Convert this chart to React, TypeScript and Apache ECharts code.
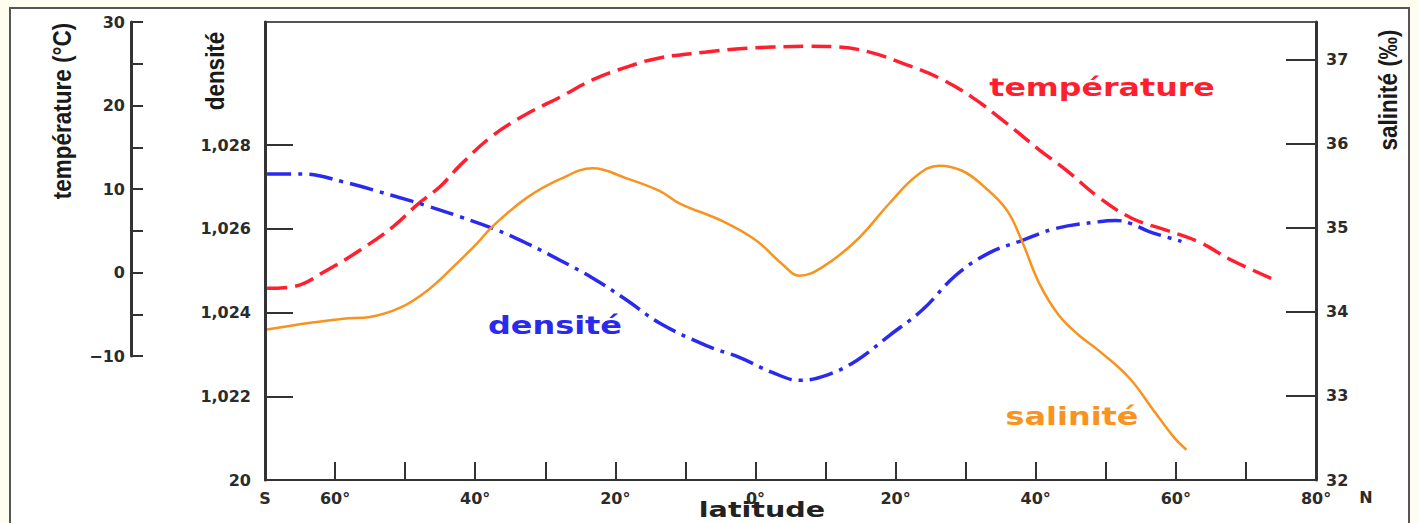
import React, { useEffect, useRef } from "react";
import * as echarts from "echarts";

// Latitude (negative = South, positive = North)
const tempLat = [-69.7, -66, -61.1, -56.4, -51.7, -48.3, -45, -42.2, -37.5, -32.6, -27.9, -23.2, -18.4, -13.7, -7, -2.3, 2.4, 7.3, 12, 16.7, 21.5, 26.2, 30.9, 35.8, 40.5, 44.3, 49, 53.7, 58.5, 63.2, 67.9, 73.6];
const tempVal = [-1.9, -1.7, 0.3, 2.7, 5.5, 8.1, 10.3, 12.8, 16.4, 19.0, 21.0, 23.1, 24.6, 25.7, 26.4, 26.8, 27.0, 27.1, 27.0, 26.3, 24.9, 23.3, 21.0, 17.9, 14.7, 12.3, 9.0, 6.5, 5.1, 3.7, 1.5, -0.7];

const densLat = [-69.7, -64.5, -58.8, -51.7, -46.9, -42.2, -37.5, -32.6, -27.9, -23.2, -18.4, -13.7, -7, -2.3, 2.4, 6.3, 10.1, 14.4, 19.1, 23.8, 28.6, 33.3, 38, 42.9, 49, 51.4, 53.7, 56.1, 60.8];
const densVal = [1.02731, 1.02731, 1.02712, 1.02679, 1.02655, 1.02629, 1.02601, 1.02565, 1.02525, 1.02482, 1.0243, 1.02375, 1.02321, 1.02293, 1.02257, 1.02238, 1.0225, 1.02285, 1.02345, 1.02406, 1.02489, 1.02542, 1.02572, 1.02601, 1.02617, 1.0262, 1.02612, 1.02594, 1.0257];

const salLat = [-69.7, -63.5, -58.8, -55, -50.7, -46.9, -43.2, -39.7, -37.5, -32.6, -27.9, -23.2, -18.4, -13.7, -10.8, -4.7, 0.1, 3.8, 6.3, 9.5, 14.4, 19.1, 23, 26.2, 29.5, 32.5, 35.8, 38, 40.5, 43.3, 46.2, 49, 53.3, 56.8, 59.7, 61.5];
const salVal = [33.79, 33.87, 33.92, 33.94, 34.05, 34.25, 34.53, 34.82, 35.02, 35.36, 35.58, 35.71, 35.59, 35.44, 35.29, 35.08, 34.85, 34.57, 34.43, 34.53, 34.85, 35.29, 35.62, 35.74, 35.68, 35.5, 35.22, 34.85, 34.34, 33.96, 33.72, 33.54, 33.22, 32.83, 32.51, 32.36];

const latTickLabels: Record<string, string> = {
  "-70": "S", "-60": "60°", "-40": "40°", "-20": "20°", "0": "0°",
  "20": "20°", "40": "40°", "60": "60°", "80": "80°",
};
const densTicks = [1.022, 1.024, 1.026, 1.028];
const densLabels = [1.02, 1.022, 1.024, 1.026, 1.028];

const zip = (xs: number[], ys: number[]) => xs.map((x, i) => [x, ys[i]]);

const tickFont = { fontFamily: "DejaVu Sans", fontWeight: "bold" as const, fontSize: 16, color: "#2b2b2b" };

export default function App() {
  const ref = useRef<HTMLDivElement>(null);
  useEffect(() => {
    if (!ref.current) return;
    const chart = echarts.init(ref.current, undefined, { renderer: "svg" });
    const option: any = {
      animation: false,
      grid: [
        { left: 265, top: 22, width: 1051, height: 458, show: true, borderColor: "#555", borderWidth: 2 },
        { left: 131, top: 22, width: 10, height: 334, show: false },
      ],
      xAxis: [
        {
          type: "value", gridIndex: 0, min: -70, max: 80, interval: 10,
          axisLine: { onZero: false, lineStyle: { color: "#333", width: 2 } },
          axisTick: { inside: true, length: 18, lineStyle: { color: "#333", width: 2 } },
          axisLabel: { ...tickFont, margin: 10, formatter: (v: number) => latTickLabels[String(Math.round(v))] ?? "" },
          splitLine: { show: false },
        },
        { type: "value", gridIndex: 1, show: false, min: 0, max: 1 },
      ],
      yAxis: [
        {
          type: "value", gridIndex: 0, position: "left", min: 1.02, max: 1.03094,
          axisLine: { show: true, onZero: false, lineStyle: { color: "#333", width: 3 } },
          axisTick: { show: true, inside: true, length: 28, customValues: densTicks, lineStyle: { color: "#333", width: 2 } },
          axisLabel: {
            ...tickFont, margin: 14, customValues: densLabels,
            formatter: (v: number) => {
              const k = Math.round((v - 1) * 1000);
              return k === 20 ? "20" : k > 28 ? "" : "1,0" + k;
            },
          },
          splitLine: { show: false },
        },
        {
          type: "value", gridIndex: 0, position: "right", min: 32, max: 37.45, interval: 1,
          axisLine: { show: true, onZero: false, lineStyle: { color: "#333", width: 3 } },
          axisTick: { show: true, inside: true, length: 30, lineStyle: { color: "#333", width: 2 } },
          axisLabel: { ...tickFont, margin: 10, showMaxLabel: false },
          splitLine: { show: false },
        },
        { type: "value", gridIndex: 0, show: false, min: -24.85, max: 30, axisLine: { onZero: false } },
        {
          type: "value", gridIndex: 1, position: "left", min: -10, max: 30, interval: 5,
          axisLine: { show: true, onZero: false, lineStyle: { color: "#333", width: 3 } },
          axisTick: { show: true, inside: true, length: 12, lineStyle: { color: "#333", width: 2 } },
          axisLabel: {
            ...tickFont, margin: 6,
            formatter: (v: number) => (Math.round(v) % 10 === 0 ? (v < 0 ? "−" + -v : String(v)) : ""),
          },
          splitLine: { show: false },
        },
      ],
      series: [
        {
          name: "température", type: "line", xAxisIndex: 0, yAxisIndex: 2, smooth: 0.4, showSymbol: false,
          data: zip(tempLat, tempVal),
          lineStyle: { color: "#ff1f2f", width: 3.5, type: [20, 8] },
          z: 3,
        },
        {
          name: "densité", type: "line", xAxisIndex: 0, yAxisIndex: 0, smooth: 0.4, showSymbol: false,
          data: zip(densLat, densVal),
          lineStyle: { color: "#2a2aee", width: 3.5, type: [24, 7, 4, 7] },
          z: 3,
        },
        {
          name: "salinité", type: "line", xAxisIndex: 0, yAxisIndex: 1, smooth: 0.4, showSymbol: false,
          data: zip(salLat, salVal),
          lineStyle: { color: "#f7931e", width: 2.5 },
          z: 3,
        },
      ],
      graphic: [
        { type: "text", x: 62, y: 111, rotation: Math.PI / 2, scaleX: 0.9, style: { text: "température (°C)", font: 'bold 25px "Liberation Sans"', fill: "#1a1a1a", textAlign: "center", textVerticalAlign: "middle" } },
        { type: "text", x: 215, y: 71, rotation: Math.PI / 2, scaleX: 0.9, style: { text: "densité", font: 'bold 25px "Liberation Sans"', fill: "#1a1a1a", textAlign: "center", textVerticalAlign: "middle" } },
        { type: "text", x: 1388, y: 90, rotation: Math.PI / 2, scaleX: 0.9, style: { text: "salinité (‰)", font: 'bold 25px "Liberation Sans"', fill: "#1a1a1a", textAlign: "center", textVerticalAlign: "middle" } },
        { type: "text", x: 762, y: 509, scaleX: 1.3, style: { text: "latitude", font: 'bold 22px "DejaVu Sans"', fill: "#222", textAlign: "center", textVerticalAlign: "middle" } },
        { type: "text", x: 1366, y: 497, style: { text: "N", font: 'bold 16px "DejaVu Sans"', fill: "#2b2b2b", textAlign: "center", textVerticalAlign: "middle" } },
        { type: "text", x: 1102, y: 88, scaleX: 1.32, style: { text: "température", font: 'bold 24px "DejaVu Sans"', fill: "#ff1f2f", textAlign: "center", textVerticalAlign: "middle" } },
        { type: "text", x: 555, y: 326, scaleX: 1.33, style: { text: "densité", font: 'bold 24px "DejaVu Sans"', fill: "#2a2aee", textAlign: "center", textVerticalAlign: "middle" } },
        { type: "text", x: 1072, y: 417, scaleX: 1.33, style: { text: "salinité", font: 'bold 24px "DejaVu Sans"', fill: "#f7931e", textAlign: "center", textVerticalAlign: "middle" } },
      ],
    };
    chart.setOption(option);
    return () => chart.dispose();
  }, []);

  return (
    <div style={{ position: "fixed", left: 0, top: 0, width: 1418, height: 523, background: "#fffdf0", overflow: "hidden" }}>
      <div style={{ position: "absolute", left: 9, top: 7, width: 1397, height: 540, background: "#ffffff", border: "2px solid #555" }} />
      <div ref={ref} style={{ position: "absolute", left: 0, top: 0, width: 1418, height: 523 }} />
    </div>
  );
}
